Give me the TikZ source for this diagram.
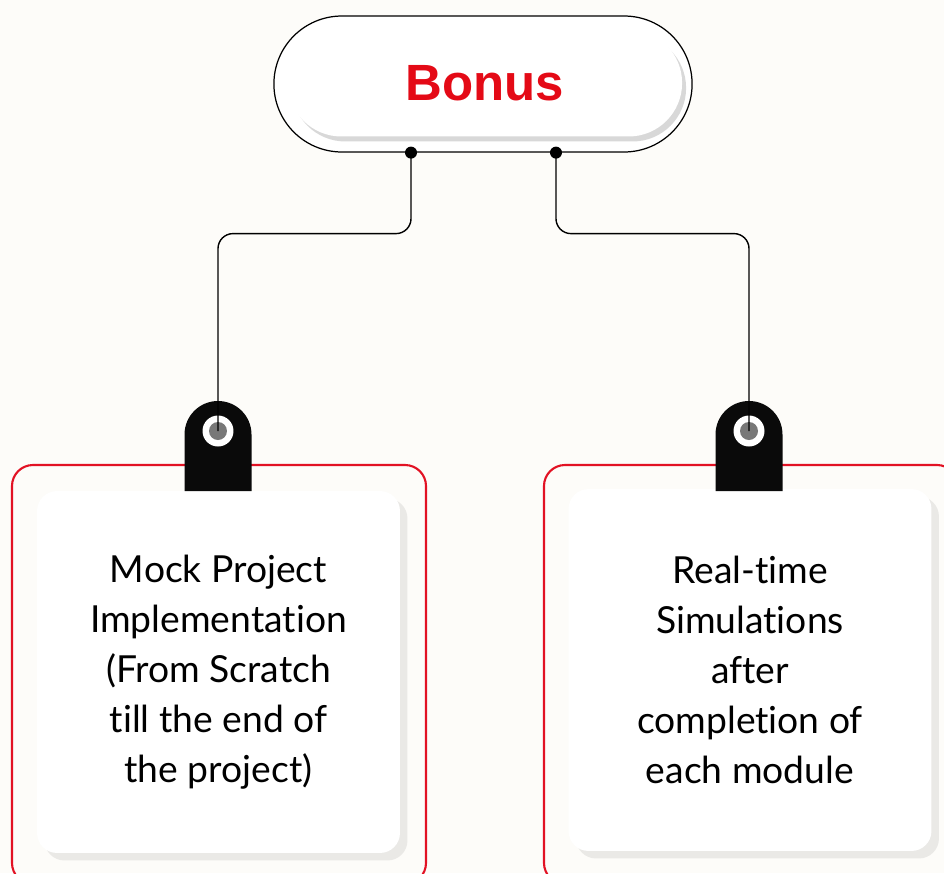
\documentclass[tikz,border=0pt]{standalone}
\usepackage{fontspec}
\setmainfont{Lato}[Ligatures=NoCommon]
\newfontfamily\titlefont{Liberation Sans}
\usetikzlibrary{shapes.misc,shadows}
\definecolor{bonusred}{RGB}{228,10,22}
\definecolor{framered}{RGB}{226,18,36}
\definecolor{paper}{RGB}{253,252,249}
\definecolor{tagblack}{RGB}{10,10,10}
\definecolor{holegray}{RGB}{120,120,120}
\tikzset{
  pillout/.style={rounded rectangle,draw=black,line width=.7pt,fill=white,
    minimum width=8.6cm,minimum height=2.72cm},
  pillin/.style={rounded rectangle,fill=white,minimum width=8.12cm,minimum height=2.14cm,
    drop shadow={shadow xshift=.08cm,shadow yshift=-.1cm,opacity=.3},
    font=\titlefont\bfseries\fontsize{29}{32}\selectfont,text=bonusred},
  card/.style={fill=white,rounded corners=.4cm,minimum width=7.26cm,minimum height=7.24cm,
    align=center,font=\fontsize{21.2}{28.4}\selectfont,
    drop shadow={shadow xshift=.15cm,shadow yshift=-.15cm,opacity=.15}},
  frame/.style={draw=framered,line width=1.2pt,rounded corners=.42cm},
  conn/.style={line width=.8pt,rounded corners=.3cm},
  hole/.style={circle,fill=white,minimum size=.62cm,inner sep=0pt},
}
\begin{document}
\begin{tikzpicture}[x=.02cm,y=-.02cm]
\fill[paper](0,0)rectangle(944,873);
\useasboundingbox(0,0)rectangle(944,873);
\clip(0,0)rectangle(944,873);
% red frames
\draw[frame](12,465)rectangle(426,884);
\draw[frame](544,465)rectangle(958,884);
% cards
\node[card](mock) at (218.5,672){Mock Project\\Implementation\\(From Scratch\\till the end of\\the project)};
\node[card](sim) at (750,670){Real-time\\Simulations\\after\\completion of\\each module};
% tags
\foreach \x/\n in {218/L,749/R}
{
  \fill[tagblack](\x-33.5,491)[rounded corners=.67cm]--(\x-33.5,401)--(\x+33.5,401)[sharp corners]--(\x+33.5,491)--cycle;
  \node[hole](hole\n) at (\x,431){};
  \fill[holegray](hole\n.center) circle(.18cm);
}
% title
\node[pillout](bonus) at (483,84){};
\node[pillin](title) at (485,83){Bonus};
\coordinate(dl) at ([xshift=-1.44cm]bonus.south);
\coordinate(dr) at ([xshift=1.46cm]bonus.south);
\draw[conn](dl)--++(0,81)-|(holeL.center);
\draw[conn](dr)--++(0,81)-|(holeR.center);
\fill(dl) circle(.12cm) (dr) circle(.12cm);
\end{tikzpicture}
\end{document}
